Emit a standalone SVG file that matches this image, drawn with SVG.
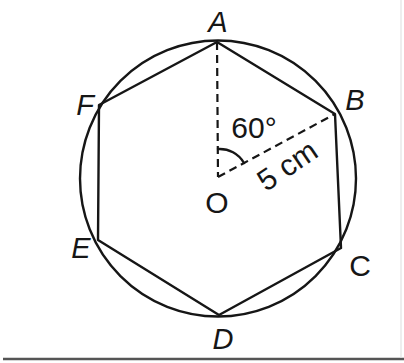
<svg xmlns="http://www.w3.org/2000/svg" width="404" height="363" viewBox="0 0 404 363">
<style>
.ln{fill:none;stroke:#161616;stroke-width:2.4;stroke-linejoin:round;stroke-linecap:round}
.dash{fill:none;stroke:#161616;stroke-width:2.2;stroke-dasharray:8 5}
.lbl{font-family:"Liberation Sans",Arial,sans-serif;font-style:italic;font-size:29px;fill:#161616}
.num{font-family:"Liberation Sans",Arial,sans-serif;font-size:30px;fill:#161616}
</style>
<rect width="404" height="363" fill="#ffffff"/>
<g id="circle"><circle class="ln" cx="218" cy="178.5" r="138"/></g>
<g id="hexagon"><polygon class="ln" points="217,42 335,114 341,248 219,315 98,240 99,105"/></g>
<g id="connectors">
<line class="dash" x1="217" y1="42" x2="218" y2="177"/>
<line class="dash" x1="218" y1="177" x2="335" y2="114"/>
<path class="ln" d="M218,149 A28,28 0 0 1 244,163"/>
</g>
<g id="A"><text class="lbl" x="218" y="32" text-anchor="middle">A</text></g>
<g id="B"><text class="lbl" x="355" y="110" text-anchor="middle">B</text></g>
<g id="C"><text class="num" x="360" y="276" text-anchor="middle">C</text></g>
<g id="D"><text class="lbl" x="223" y="349" text-anchor="middle">D</text></g>
<g id="E"><text class="lbl" x="81" y="258" text-anchor="middle">E</text></g>
<g id="F"><text class="lbl" x="85" y="115" text-anchor="middle">F</text></g>
<g id="O"><text class="num" x="217" y="213" text-anchor="middle">O</text></g>
<g id="angle"><text class="num" x="254" y="138" text-anchor="middle">60°</text></g>
<g id="length"><text class="num" x="0" y="0" text-anchor="middle" transform="translate(293,174) rotate(-34)">5 cm</text></g>
<line x1="3" y1="359" x2="404" y2="359" stroke="#555" stroke-width="2.5"/>
<line x1="401" y1="0" x2="401" y2="358" stroke="#ddd" stroke-width="1"/>
</svg>
